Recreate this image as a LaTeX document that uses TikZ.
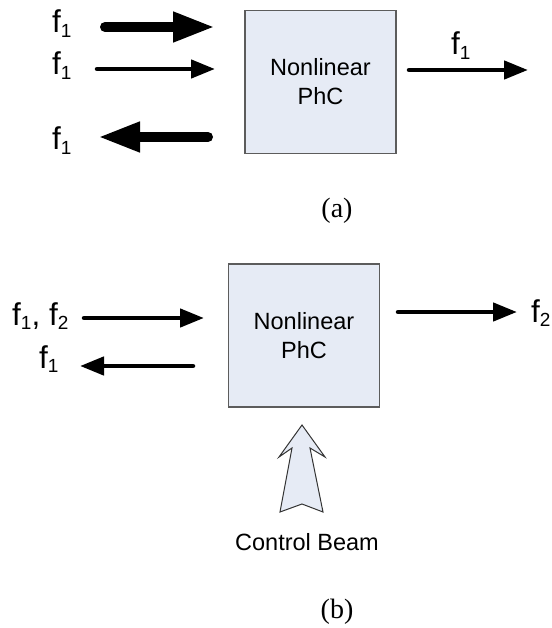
\documentclass[tikz,border=0pt]{standalone}
\usepackage{fontspec}
\setmainfont{Liberation Sans}
\newfontfamily\capserif{Liberation Serif}
\usetikzlibrary{arrows.meta}

\definecolor{boxfill}{HTML}{E6EBF5}
\definecolor{boxedge}{HTML}{5C5C5C}

% frequency label: f with a lowered index
\newcommand\freqlab[1]{f\raisebox{-4.5pt}{\fontsize{19}{19}\selectfont #1}}

\begin{document}
\begin{tikzpicture}[x=1pt,y=-1pt,
  phcbox/.style={draw=boxedge, fill=boxfill, line width=1.2pt,
    minimum width=151pt, minimum height=143pt, inner sep=0pt,
    align=center, font=\fontsize{23.5}{29}\selectfont},
  lab/.style={anchor=base west, inner sep=0pt, font=\fontsize{31.5}{31.5}\selectfont},
  caplab/.style={inner sep=0pt, font=\capserif\fontsize{28}{28}\selectfont},
  heavyarrow/.style={line width=10pt, line cap=round,
    -{Triangle[length=42pt,width=28pt]}},
  lightarrow/.style={line width=4.5pt, line cap=round,
    -{Triangle[length=24pt,width=18pt]}},
  beam/.style={draw=black!80, fill=boxfill, line width=1pt, line join=miter}
]
\useasboundingbox (0,0) rectangle (551,628);

% ---------- part (a) ----------
\node[phcbox] (boxA) at (320.5,82) {Nonlinear\\PhC};

\node[lab] (fa1) at (52,33) {\freqlab{1}};
\node[lab] (fa2) at (52,75) {\freqlab{1}};
\node[lab] (fa3) at (52,150) {\freqlab{1}};
\node[lab] (fa4) at (451,55) {\freqlab{1}};

\coordinate (a1s) at (105,27);  \coordinate (a1e) at (215,27);
\coordinate (a2s) at (97,69);   \coordinate (a2e) at (215,69);
\coordinate (a3s) at (208,137); \coordinate (a3e) at (98,137);
\coordinate (a4s) at (409,70);  \coordinate (a4e) at (528,70);

\draw[heavyarrow] (a1s) -- (a1e);
\draw[lightarrow] (a2s) -- (a2e);
\draw[heavyarrow] (a3s) -- (a3e);
\draw[lightarrow] (a4s) -- (a4e);

\node[caplab] (capA) at (337,211) {(a)};

% ---------- part (b) ----------
\node[phcbox] (boxB) at (304,335.5) {Nonlinear\\PhC};

\node[lab] (fb1) at (12,325) {\freqlab{1}, \freqlab{2}};
\node[lab] (fb2) at (39,368) {\freqlab{1}};
\node[lab] (fb3) at (531,322) {\freqlab{2}};

\coordinate (b1s) at (84,318);  \coordinate (b1e) at (204,318);
\coordinate (b2s) at (193,366); \coordinate (b2e) at (80,366);
\coordinate (b3s) at (398,312); \coordinate (b3e) at (517,312);

\draw[lightarrow] (b1s) -- (b1e);
\draw[lightarrow] (b2s) -- (b2e);
\draw[lightarrow] (b3s) -- (b3e);

% control beam: hollow block arrow pointing at the crystal
\draw[beam] (302,425) -- (325,457) -- (310,448) -- (323,512) -- (302,504)
  -- (280,512) -- (292,448) -- (279,457) -- cycle;

\node[inner sep=0pt, font=\fontsize{23.5}{23.5}\selectfont] (ctrl) at (307,542) {Control Beam};

\node[caplab] (capB) at (337,612) {(b)};
\end{tikzpicture}
\end{document}
